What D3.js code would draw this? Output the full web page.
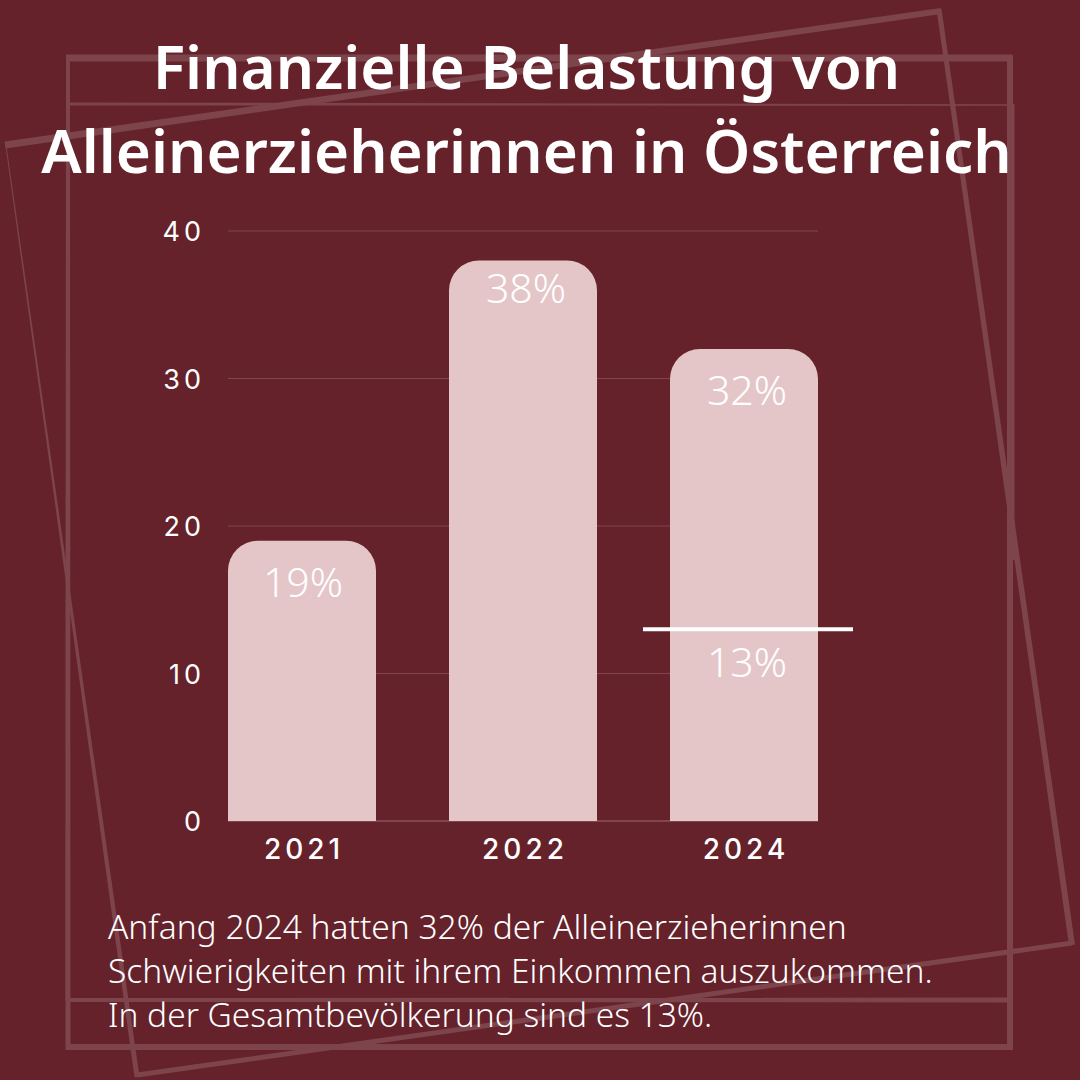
<!DOCTYPE html>
<html>
<head>
<meta charset="utf-8">
<script src="https://cdn.jsdelivr.net/npm/d3@7"></script>
<style>
  html, body { margin: 0; padding: 0; background: #65222b; }
  svg { display: block; }
</style>
</head>
<body>
<svg id="chart" width="1080" height="1080"></svg>
<script>
const years = ['2021', '2022', '2024'];
const shares = [19, 38, 32];
const yTicks = [0, 10, 20, 30, 40];
const populationShare = 13;
const titleLines = ['Finanzielle Belastung von', 'Alleinerzieherinnen in Österreich'];
const noteLines = [
    'Anfang 2024 hatten 32% der Alleinerzieherinnen',
    'Schwierigkeiten mit ihrem Einkommen auszukommen.',
    'In der Gesamtbevölkerung sind es 13%.'
];

const svg = d3.select('#chart');
const bodyFont = "'Noto Sans', 'Open Sans', sans-serif";
const axisFont = "Inter, 'Noto Sans', sans-serif";

svg.append('rect').attr('width', 1080).attr('height', 1080).attr('fill', '#65222b');

// Decorative frames behind everything, some sides taper like a brush stroke
const frameColor = '#7d444c';
const frames = svg.append('g').attr('fill', frameColor);
const strokes = [
    // straight outer frame
    [[66, 58], [1012, 58], 7, 7],
    [[1010, 55], [1010, 1050], 6, 6],
    [[1013, 1047], [66, 1047], 6, 6],
    [[68, 1050], [68, 55], 5, 4],
    // straight inner frame
    [[67, 104], [1010, 105], 3, 1.5],
    [[1012, 104], [1012, 560], 5, 5],
    [[1010, 1000], [67, 1000], 5, 4],
    [[67, 1000], [67, 104], 3, 2],
    // rotated frame
    [[5, 145], [941, 11], 7, 6],
    [[939, 9], [1072, 945], 5, 6],
    [[1072, 943], [137, 1075], 5, 5],
    [[137, 1077], [6, 146], 5, 1]
];
strokes.forEach(([a, b, w0, w1]) => {
    const len = Math.hypot(b[0] - a[0], b[1] - a[1]);
    const nx = -(b[1] - a[1]) / len, ny = (b[0] - a[0]) / len;
    frames.append('path').attr('d', d3.line()([
        [a[0] + nx * w0 / 2, a[1] + ny * w0 / 2],
        [b[0] + nx * w1 / 2, b[1] + ny * w1 / 2],
        [b[0] - nx * w1 / 2, b[1] - ny * w1 / 2],
        [a[0] - nx * w0 / 2, a[1] - ny * w0 / 2]
    ]) + 'Z');
});

// Scales
const x = d3.scaleBand().domain(years).range([228, 818]).paddingInner(73 / 221).paddingOuter(0);
const y = d3.scaleLinear().domain([0, 40]).range([821, 231]);

// Gridlines
svg.append('g')
    .selectAll('line')
    .data(yTicks)
    .enter()
    .append('line')
    .attr('x1', 228)
    .attr('x2', 818)
    .attr('y1', d => y(d))
    .attr('y2', d => y(d))
    .attr('stroke', d => d === 0 ? '#9a6a70' : '#7f4650')
    .attr('stroke-width', 1);

// Y axis labels
svg.append('g')
    .selectAll('text')
    .data(yTicks)
    .enter()
    .append('text')
    .attr('x', 205)
    .attr('y', d => y(d) + 10)
    .attr('text-anchor', 'end')
    .attr('fill', '#fff')
    .style('font', `400 27px ${axisFont}`)
    .style('letter-spacing', '4px')
    .text(d => d);

// Bars with rounded tops
const radius = 30;
svg.append('g')
    .selectAll('path')
    .data(years)
    .enter()
    .append('path')
    .attr('fill', '#e4c6c8')
    .attr('d', (d, i) => {
        const x0 = x(d), x1 = x0 + x.bandwidth(), top = y(shares[i]), base = y(0);
        return `M${x0},${base}V${top + radius}A${radius},${radius} 0 0 1 ${x0 + radius},${top}` +
            `H${x1 - radius}A${radius},${radius} 0 0 1 ${x1},${top + radius}V${base}Z`;
    });

// Bar value labels, nudged by hand like in the original
const labelDx = [1, 3, 3];
const labelDy = [56, 42, 56];
svg.append('g')
    .selectAll('text')
    .data(years)
    .enter()
    .append('text')
    .attr('x', (d, i) => x(d) + x.bandwidth() / 2 + labelDx[i])
    .attr('y', (d, i) => y(shares[i]) + labelDy[i])
    .attr('text-anchor', 'middle')
    .attr('fill', '#fff')
    .style('font', `300 41px ${bodyFont}`)
    .text((d, i) => shares[i] + '%');

// X axis labels
svg.append('g')
    .selectAll('text')
    .data(years)
    .enter()
    .append('text')
    .attr('x', d => x(d) + x.bandwidth() / 2 + 2)
    .attr('y', 859)
    .attr('text-anchor', 'middle')
    .attr('fill', '#fff')
    .style('font', `500 28px ${axisFont}`)
    .style('letter-spacing', '4px')
    .text(d => d);

// Reference line for the whole population in the 2024 bar
const refCenter = x('2024') + x.bandwidth() / 2;
svg.append('line')
    .attr('x1', refCenter - 101)
    .attr('x2', refCenter + 109)
    .attr('y1', y(populationShare))
    .attr('y2', y(populationShare))
    .attr('stroke', '#fff')
    .attr('stroke-width', 4);
svg.append('text')
    .attr('x', refCenter + 3)
    .attr('y', y(populationShare) + 48)
    .attr('text-anchor', 'middle')
    .attr('fill', '#fff')
    .style('font', `300 41px ${bodyFont}`)
    .text(populationShare + '%');

// Title
svg.append('g')
    .selectAll('text')
    .data(titleLines)
    .enter()
    .append('text')
    .attr('x', 526.5)
    .attr('y', (d, i) => 89 + i * 84)
    .attr('text-anchor', 'middle')
    .attr('fill', '#fff')
    .style('font', `600 60.2px ${bodyFont}`)
    .text(d => d);

// Note under the chart
svg.append('g')
    .selectAll('text')
    .data(noteLines)
    .enter()
    .append('text')
    .attr('x', 108)
    .attr('y', (d, i) => 939 + i * 44)
    .attr('fill', '#fff')
    .style('font', `300 33.5px ${bodyFont}`)
    .text(d => d);
</script>
</body>
</html>
